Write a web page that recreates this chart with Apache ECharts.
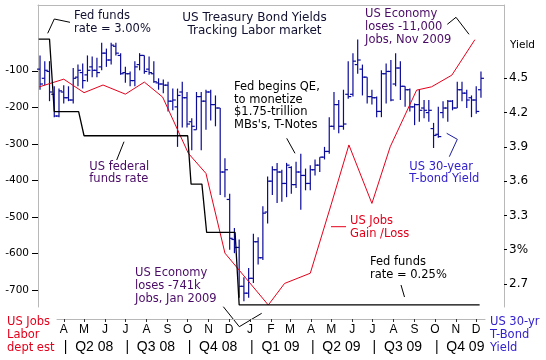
<!DOCTYPE html>
<html><head><meta charset="utf-8">
<script src="https://cdn.jsdelivr.net/npm/echarts@6/dist/echarts.min.js"></script>
<style>html,body{margin:0;padding:0;background:#fff}#c{width:546px;height:360px}</style>
</head><body><div id="c"></div>
<script>
// ---- data ----
const weekStart = '2008-02-26';   // first weekly bar
const yieldHigh = [
 4.70,4.65,4.65,4.43,4.41,4.44,4.43,4.59,4.62,4.63,4.70,4.69,4.68,4.81,4.76,4.81,4.81,4.72,4.60,4.56,4.65,4.72,4.70,4.69,4.65,4.50,4.49,4.47,4.41,4.41,4.47,4.38,
 4.15,4.38,4.38,4.40,4.40,4.35,4.24,3.80,3.49,3.19,3.09,2.76,2.84,3.14,3.11,3.38,3.64,3.73,3.76,3.70,3.76,3.73,3.77,3.84,3.71,3.74,3.79,3.81,3.90,4.16,4.38,4.31,
 4.40,4.65,4.72,4.84,4.62,4.51,4.40,4.34,4.57,4.63,4.66,4.72,4.65,4.43,4.41,4.28,4.40,4.31,4.31,4.11,4.25,4.30,4.31,4.31,4.47,4.47,4.40,4.35,4.43,4.56];
const yieldLow = [
 4.40,4.44,4.30,4.16,4.16,4.28,4.30,4.28,4.43,4.41,4.47,4.51,4.51,4.57,4.60,4.62,4.70,4.53,4.46,4.43,4.43,4.57,4.54,4.53,4.46,4.40,4.37,4.21,4.22,3.90,4.07,4.07,
 3.87,4.05,3.87,4.05,4.13,4.08,3.48,3.46,3.00,2.97,2.58,2.55,2.58,2.71,2.87,2.91,3.23,3.48,3.41,3.42,3.46,3.49,3.54,3.35,3.52,3.52,3.65,3.68,3.79,3.84,4.05,4.02,
 4.05,4.32,4.34,4.54,4.35,4.28,4.27,4.16,4.16,4.28,4.30,4.43,4.31,4.25,4.21,4.09,4.12,4.15,4.12,3.89,3.98,4.15,4.12,4.22,4.24,4.30,4.24,4.16,4.19,4.33];
const yieldOpen = [
 4.58,4.50,4.56,4.36,4.17,4.38,4.33,4.31,4.51,4.55,4.53,4.60,4.57,4.60,4.72,4.66,4.78,4.70,4.55,4.54,4.48,4.62,4.70,4.58,4.54,4.46,4.45,4.44,4.30,4.25,4.38,4.33,
 4.12,4.05,4.34,4.30,4.38,4.27,4.24,3.68,3.44,3.09,3.02,2.68,2.62,2.75,3.07,2.93,3.33,3.60,3.70,3.68,3.58,3.72,3.57,3.68,3.65,3.58,3.70,3.74,3.81,3.86,4.08,4.27,
 4.08,4.36,4.36,4.62,4.58,4.51,4.34,4.33,4.21,4.54,4.56,4.45,4.59,4.43,4.40,4.25,4.27,4.24,4.20,4.06,4.01,4.20,4.24,4.30,4.24,4.40,4.37,4.33,4.31,4.40];
const yieldClose = [
 4.45,4.57,4.38,4.17,4.39,4.33,4.31,4.50,4.57,4.48,4.57,4.57,4.55,4.72,4.66,4.79,4.72,4.54,4.54,4.48,4.60,4.70,4.56,4.55,4.47,4.45,4.44,4.30,4.31,4.35,4.33,4.10,
 4.08,4.34,4.30,4.38,4.27,4.24,3.68,3.70,3.10,3.02,2.68,2.62,2.75,3.07,2.93,3.32,3.60,3.70,3.68,3.58,3.74,3.57,3.68,3.65,3.58,3.70,3.74,3.81,3.86,4.08,4.27,4.08,
 4.10,4.34,4.65,4.66,4.51,4.34,4.33,4.21,4.54,4.56,4.31,4.59,4.43,4.40,4.25,4.27,4.22,4.22,4.22,4.00,3.99,4.24,4.30,4.24,4.40,4.37,4.31,4.31,4.21,4.50];

const jobsDates = ['2008-02-25','2008-04-01','2008-05-01','2008-05-29','2008-07-01','2008-07-29','2008-08-25','2008-10-02','2008-10-28','2008-11-25','2009-01-28','2009-02-21','2009-03-31','2009-05-01','2009-05-27','2009-06-30','2009-07-27','2009-09-04','2009-09-26','2009-10-26','2009-11-29'];
const jobsValues = [-144,-123,-160,-139,-164,-131,-172,-326,-381,-599,-741,-682,-654,-465,-303,-463,-308,-153,-144,-112,-15];

const fedDates = ['2008-02-24','2008-03-11','2008-03-18','2008-04-23','2008-05-01','2008-10-01','2008-10-06','2008-10-22','2008-10-29','2008-12-10','2008-12-16','2009-12-06'];
const fedRates = [3.00,3.00,2.25,2.25,2.00,2.00,1.50,1.50,1.00,1.00,0.25,0.25];

const jobsTicks = [-100,-200,-300,-400,-500,-600,-700];
const yieldTicks = [2.7,3.0,3.3,3.6,3.9,4.2,4.5];
const monthTicks = ['2008-04-01','2008-05-01','2008-06-01','2008-07-01','2008-08-01','2008-09-01','2008-10-01','2008-11-01','2008-12-01','2009-01-01','2009-02-01','2009-03-01','2009-04-01','2009-05-01','2009-06-01','2009-07-01','2009-08-01','2009-09-01','2009-10-01','2009-11-01','2009-12-01'];
const monthLabels = ['A','M','J','J','A','S','O','N','D','J','F','M','A','M','J','J','A','S','O','N','D'];
const quarterTicks = ['2008-04-01','2008-07-01','2008-10-01','2009-01-01','2009-04-01','2009-07-01','2009-10-01'];
const quarterLabels = ['Q2 08','Q3 08','Q4 08','Q1 09','Q2 09','Q3 09','Q4 09'];

// ---- build ----
function ts(s){const p=s.split('-').map(Number);return new Date(p[0],p[1]-1,p[2]).getTime();}
const w0 = weekStart.split('-').map(Number);
const yieldData = yieldHigh.map((h,i)=>[new Date(w0[0],w0[1]-1,w0[2]+7*i).getTime(), yieldOpen[i], h, yieldLow[i], yieldClose[i]]);
const jobsData = jobsDates.map((d,i)=>[ts(d), jobsValues[i]]);
const fedData = fedDates.map((d,i)=>[ts(d), fedRates[i]]);
const monthTs = monthTicks.map(ts), quarterTs = quarterTicks.map(ts);
const monthMap = {}; monthTs.forEach((t,i)=>monthMap[t]=monthLabels[i]);
const quarterMap = {}; quarterTs.forEach((t,i)=>quarterMap[t]='|  '+quarterLabels[i]);

const GREY = '#b8b8b8', NAVY = '#0b0b9a', RED = '#e4001b', PURPLE = '#4a0b66', BLUE = '#3322cc';
const F = '"DejaVu Sans"';

function txt(x,y,text,fill,size,lh,align){
  return {type:'text', x:x, y:y, silent:true, style:{text:text, fill:fill, font:size+'px '+F, lineHeight:lh, align:align||'left', verticalAlign:'top'}};
}
function pl(points,color){
  return {type:'polyline', silent:true, shape:{points:points}, style:{stroke:color||'#000', lineWidth:1, fill:null}};
}

const chart = echarts.init(document.getElementById('c'), null, {renderer:'canvas'});
chart.setOption({
  animation:false,
  backgroundColor:'#fff',
  grid:[
    {left:38, right:42, top:5, bottom:53},
    {left:57, right:61, top:318, height:1}
  ],
  xAxis:[
    {type:'value', gridIndex:0, min:ts('2008-02-23'), max:ts('2010-01-11'), show:false, splitLine:{show:false}},
    {type:'value', gridIndex:0, position:'top', min:0, max:1, axisLine:{show:true, lineStyle:{color:GREY}}, axisTick:{show:false}, axisLabel:{show:false}, splitLine:{show:false}},
    {type:'value', gridIndex:1, position:'bottom', min:ts('2008-03-22'), max:ts('2009-12-14'),
      axisLine:{show:true, lineStyle:{color:GREY}},
      axisTick:{show:true, customValues:monthTs, length:3, lineStyle:{color:'#333'}},
      axisLabel:{customValues:monthTs, formatter:v=>monthMap[v]||'', margin:5, color:'#000', fontFamily:'Liberation Sans', fontSize:12, hideOverlap:false},
      splitLine:{show:false}},
    {type:'value', gridIndex:1, position:'bottom', min:ts('2008-03-22'), max:ts('2009-12-14'),
      axisLine:{show:false}, axisTick:{show:false},
      axisLabel:{customValues:quarterTs, formatter:v=>quarterMap[v]||'', align:'left', margin:21, color:'#000', fontFamily:'Liberation Sans', fontSize:14, hideOverlap:false},
      splitLine:{show:false}}
  ],
  yAxis:[
    {type:'value', gridIndex:0, position:'left', min:-746.4, max:79.9,
      axisLine:{show:true, lineStyle:{color:GREY}},
      axisTick:{show:true, customValues:jobsTicks, length:6, lineStyle:{color:'#000'}},
      axisLabel:{customValues:jobsTicks, margin:9, color:'#000', fontFamily:'DejaVu Sans', fontSize:10.5},
      splitLine:{show:false}},
    {type:'value', gridIndex:0, position:'right', min:2.4991, max:5.1413,
      axisLine:{show:true, lineStyle:{color:GREY}},
      axisTick:{show:true, customValues:yieldTicks, length:3, lineStyle:{color:'#000'}},
      axisLabel:{customValues:yieldTicks, margin:5, color:'#000', fontFamily:'DejaVu Sans', fontSize:12,
        formatter:v=>Math.abs(v-3)<1e-6?'3%':v.toFixed(1)},
      splitLine:{show:false}},
    {type:'value', gridIndex:0, position:'right', min:0.229, max:3.352, show:false, splitLine:{show:false}},
    {type:'value', gridIndex:1, show:false, min:0, max:1, splitLine:{show:false}}
  ],
  series:[
    {type:'custom', xAxisIndex:0, yAxisIndex:1, data:yieldData, encode:{x:0, y:[1,2,3,4]},
      renderItem:function(params, api){
        const x = api.value(0);
        const po = api.coord([x, api.value(1)]), ph = api.coord([x, api.value(2)]),
              pl_ = api.coord([x, api.value(3)]), pc = api.coord([x, api.value(4)]);
        const st = {stroke:NAVY, lineWidth:1.2};
        return {type:'group', children:[
          {type:'line', shape:{x1:ph[0], y1:ph[1], x2:pl_[0], y2:pl_[1]}, style:st},
          {type:'line', shape:{x1:po[0]-3, y1:po[1], x2:po[0], y2:po[1]}, style:st},
          {type:'line', shape:{x1:pc[0], y1:pc[1], x2:pc[0]+3, y2:pc[1]}, style:st}
        ]};
      }},
    {type:'line', xAxisIndex:0, yAxisIndex:0, data:jobsData, showSymbol:false, symbol:'none',
      lineStyle:{color:RED, width:1}},
    {type:'line', xAxisIndex:0, yAxisIndex:2, data:fedData, showSymbol:false, symbol:'none',
      lineStyle:{color:'#000', width:1.3}}
  ],
  graphic:[
    txt(254.5, 10.8, 'US Treasury Bond Yields\nTracking Labor market', '#101030', 12, 13.3, 'center'),
    txt(74, 10.1, 'Fed funds\nrate = 3.00%', '#101030', 11.5, 12.8),
    pl([[47.7,33.3],[54.3,19],[70,22.3]]),
    txt(365, 8.2, 'US Economy\nloses -11,000\nJobs, Nov 2009', PURPLE, 11.5, 12.6),
    pl([[447.3,24.3],[456,17.3],[469,34.3]]),
    txt(234, 81, 'Fed begins QE,\nto monetize\n$1.75-trillion\nMBs\'s, T-Notes', '#000', 11.5, 12.5),
    pl([[286.7,138.3],[295,153.3]]),
    txt(89.3, 160.4, 'US federal\nfunds rate', PURPLE, 11.5, 12.5),
    pl([[116.7,160],[124,141.7]]),
    txt(409.3, 160.4, 'US 30-year\nT-bond Yield', BLUE, 11.5, 12.6),
    pl([[449.3,156.7],[457.3,139.3],[446.7,133.3]], '#1c1c9c'),
    txt(350, 214.9, 'US Jobs\nGain /Loss', RED, 11.5, 12.6),
    pl([[331,226.7],[346,226.7]], RED),
    txt(370, 255.7, 'Fed funds\nrate = 0.25%', '#000', 11.5, 12.6),
    pl([[401,285],[404.5,297]]),
    txt(135, 266.5, 'US Economy\nloses -741k\nJobs, Jan 2009', PURPLE, 11.5, 12.9),
    pl([[223.3,306.7],[239.3,326.7],[261.7,313.3]]),
    txt(7, 315.5, 'US Jobs\nLabor\ndept est', RED, 11.5, 13),
    txt(490, 315.5, 'US 30-yr\nT-Bond\nYield', BLUE, 11.5, 13),
    txt(510, 40, 'Yield', '#000', 10.5, 11)
  ]
});
</script></body></html>
